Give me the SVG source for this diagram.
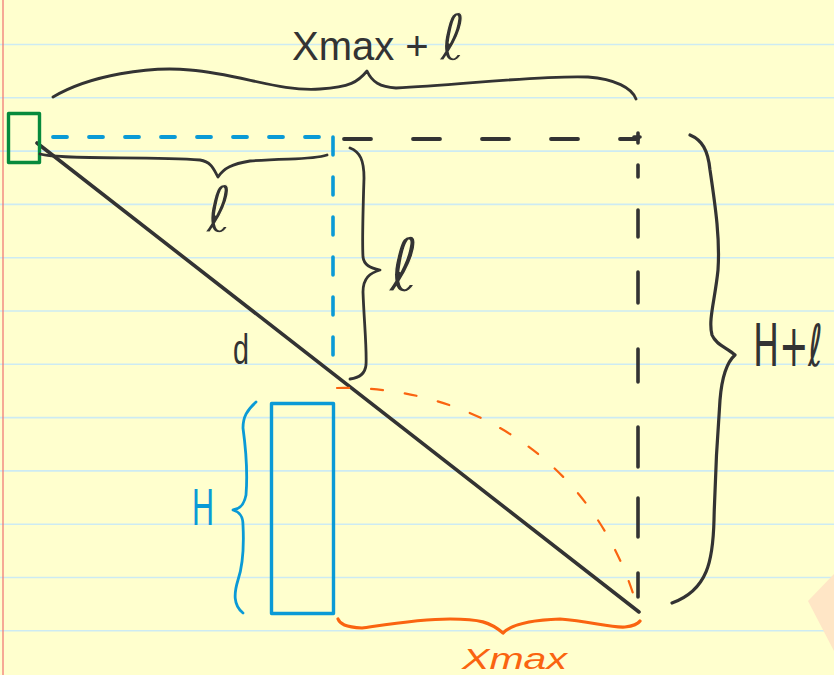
<svg xmlns="http://www.w3.org/2000/svg" width="834" height="675" viewBox="0 0 834 675">
<style>
.rule{stroke:#CDEBF3;stroke-width:1.6}
.ink{fill:none;stroke:#333333;stroke-linecap:round;stroke-linejoin:round}
.blue{fill:none;stroke:#0A9AD6;stroke-linecap:round;stroke-linejoin:round}
.orange{fill:none;stroke:#FA6410;stroke-linecap:round;stroke-linejoin:round}
.t{font-family:"Liberation Sans","DejaVu Sans",sans-serif}
.s{font-family:"DejaVu Sans","Liberation Sans",sans-serif}
.thin{stroke:#FFFFCE;stroke-width:1.2}
</style>
<rect x="0" y="0" width="834" height="675" fill="#FFFFCE"/>
<g id="paper">
<line class="rule" x1="0" y1="44.5" x2="834" y2="44.5"/>
<line class="rule" x1="0" y1="97.8" x2="834" y2="97.8"/>
<line class="rule" x1="0" y1="151.1" x2="834" y2="151.1"/>
<line class="rule" x1="0" y1="204.4" x2="834" y2="204.4"/>
<line class="rule" x1="0" y1="257.7" x2="834" y2="257.7"/>
<line class="rule" x1="0" y1="311" x2="834" y2="311"/>
<line class="rule" x1="0" y1="364.3" x2="834" y2="364.3"/>
<line class="rule" x1="0" y1="417.6" x2="834" y2="417.6"/>
<line class="rule" x1="0" y1="470.9" x2="834" y2="470.9"/>
<line class="rule" x1="0" y1="524.2" x2="834" y2="524.2"/>
<line class="rule" x1="0" y1="577.5" x2="834" y2="577.5"/>
<line class="rule" x1="0" y1="630.8" x2="834" y2="630.8"/>
<line x1="3" y1="0" x2="3" y2="675" stroke="#F07070" stroke-width="1.2"/>
<polygon points="808,601 834,574 834,651" fill="#FFE6C6"/>
</g>
<g id="connectors">
<line class="ink" x1="37" y1="143" x2="639" y2="612" stroke-width="3.6"/>
<line class="blue" x1="53" y1="137" x2="333" y2="137" stroke-width="3.8" stroke-dasharray="14 22"/>
<line class="blue" x1="333" y1="137" x2="333" y2="372" stroke-width="3.6" stroke-dasharray="18 22"/>
<line class="ink" x1="344" y1="139" x2="638" y2="139" stroke-width="3.8" stroke-dasharray="27 42"/>
<path class="ink" stroke-width="3.6" d="M638,133 L638,143 M634,137 L640,137 M638,165 L638,177 M638,210 L638,237 M638,272 L638,303 M638,349 L638,382 M638,427 L638,467 M638,498 L638,537 M638,573 L638,597"/>
<path class="orange" d="M337,388 C480,385 600,470 638,610" stroke-width="2.2" stroke-dasharray="12 22"/>
</g>
<g id="source">
<rect x="8.5" y="113.5" width="31" height="49" fill="none" stroke="#078A3C" stroke-width="3.4" stroke-linejoin="round"/>
</g>
<g id="obstacle">
<rect x="271.5" y="403.5" width="62" height="210" fill="none" stroke="#0A9AD6" stroke-width="3.4" stroke-linejoin="round"/>
</g>
<g id="brace-top">
<path class="ink" stroke-width="2.8" d="M53,97 C90,75 150,66 190,70 C240,74 280,92 320,89 C350,87 358,82 367,71 C372,82 380,87 396,88 C460,85 540,75 588,77 C615,79 632,88 636,99"/>
<text class="t" x="292" y="60" font-size="40" fill="#333333">Xmax + <tspan class="s thin" font-size="64">ℓ</tspan></text>
</g>
<g id="brace-l-horizontal">
<path class="ink" stroke-width="2.8" d="M40,154 C60,160 150,156 200,160 C212,162 214,170 218,177 C224,168 232,164 250,161 C290,158 312,160 327,155"/>
<text class="s thin" x="206" y="232" font-size="64" fill="#333333">ℓ</text>
</g>
<g id="brace-l-vertical">
<path class="ink" stroke-width="2.8" d="M350,148 C360,152 364,160 364,178 C363,210 362,240 363,257 C364,265 370,268 380,270 C370,273 363,278 363,292 C364,320 367,350 366,365 C365,375 358,378 350,379"/>
<text class="s thin" x="389" y="291" font-size="74" fill="#333333">ℓ</text>
</g>
<g id="label-d">
<text class="t" x="233" y="364" font-size="42" fill="#333333" textLength="16" lengthAdjust="spacingAndGlyphs">d</text>
</g>
<g id="brace-H-l">
<path class="ink" stroke-width="3.2" d="M690,135 C702,140 708,150 710,170 C716,210 720,240 718,270 C715,300 708,320 712,335 C716,345 728,348 735,355 C727,362 722,375 720,400 C717,440 715,480 714,520 C713,560 708,590 672,603"/>
<text class="s" transform="translate(753,366) scale(0.6,1)" x="0" y="0" font-size="58" fill="#333333">H+ℓ</text>
</g>
<g id="brace-H">
<path class="blue" stroke-width="2.8" d="M256,402 C247,410 243,417 243,428 C246,450 248,470 246,495 C244,505 240,509 233,510 C240,512 243,516 243,525 C244,545 243,565 238,580 C234,593 233,605 243,613"/>
<text class="t" x="192" y="525" font-size="52" fill="#0A9AD6" textLength="22" lengthAdjust="spacingAndGlyphs">H</text>
</g>
<g id="brace-xmax">
<path class="orange" stroke-width="3.2" d="M338,619 C340,624 345,627 362,628 C390,624 420,619 450,619 C480,619 490,622 503,633 C512,624 530,620 560,619 C590,621 610,628 625,627 C633,626 638,624 640,621"/>
<text class="t" x="462" y="669" font-size="30" fill="#FA6410" font-style="italic" textLength="105" lengthAdjust="spacingAndGlyphs">Xmax</text>
</g>
</svg>
